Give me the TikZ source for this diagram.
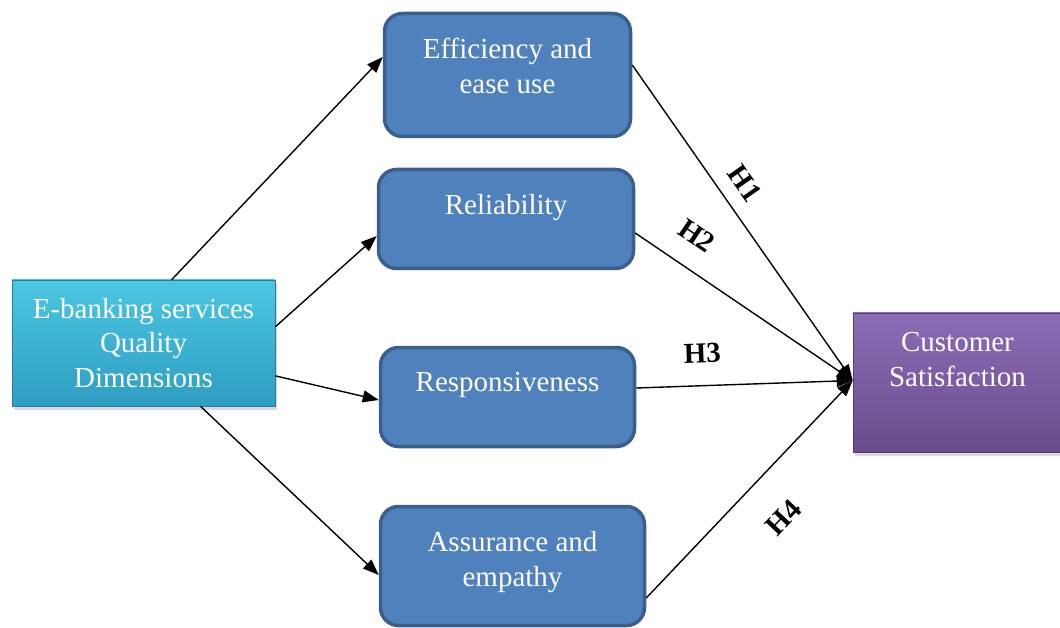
\documentclass[tikz,border=0pt]{standalone}
\usepackage{fontspec}
\setmainfont{Liberation Serif}
\usetikzlibrary{arrows.meta,shadows}

\definecolor{boxblue}{HTML}{4F81BD}
\definecolor{boxedge}{HTML}{3A5F8C}
\definecolor{cyantop}{HTML}{4CC6E2}
\definecolor{cyanbot}{HTML}{2E9EC2}
\definecolor{purptop}{HTML}{8C6CB6}
\definecolor{purpbot}{HTML}{6A4C8C}

\begin{document}
\begin{tikzpicture}[x=1pt,y=-1pt,->,>={Triangle[length=16pt,width=12pt]},
    line width=1.4pt,
    big font/.style={font=\fontsize{29}{34.5}\selectfont},
    dim box/.style={rectangle,inner sep=0pt,text=white,align=center,big font,
      top color=cyantop,bottom color=cyanbot,draw=cyanbot!80!black,line width=0.6pt,
      drop shadow={opacity=0.3,shadow xshift=2pt,shadow yshift=-4pt}},
    sat box/.style={rectangle,inner sep=0pt,
      top color=purptop,bottom color=purpbot,draw=purpbot!80!black,line width=0.6pt,
      drop shadow={opacity=0.3,shadow xshift=2pt,shadow yshift=-4pt}},
    q box/.style={rectangle,rounded corners=18pt,fill=boxblue,draw=boxedge,
      line width=3.5pt,inner sep=0pt},
    q text/.style={anchor=north,inner sep=0pt,text=white,align=center,big font},
    h label/.style={font=\fontsize{29}{34}\selectfont\bfseries,sloped,inner sep=0pt}]

  \useasboundingbox (0,0) rectangle (1060,628);

  % boxes
  \node[dim box,minimum width=263pt,minimum height=126pt] (dims) at (143.5,343)
    {E-banking services\\Quality\\Dimensions};
  \node[q box,minimum width=246pt,minimum height=123pt] (eff) at (507.5,75) {};
  \node[q box,minimum width=255pt,minimum height=99pt] (rel) at (506,219) {};
  \node[q box,minimum width=254pt,minimum height=99pt] (resp) at (507.5,397) {};
  \node[q box,minimum width=264pt,minimum height=119pt] (assu) at (512.5,566) {};
  \node[sat box,minimum width=209pt,minimum height=139pt] (cs) at (957.5,382.5) {};

  % texts
  \node[q text] (efft) at ([yshift=-26pt]eff.north) {Efficiency and\\ease use};
  \node[q text] (relt) at ([yshift=-26pt]rel.north) {Reliability};
  \node[q text] (respt) at ([yshift=-26pt]resp.north) {Responsiveness};
  \node[q text] (assut) at ([yshift=-26pt]assu.north) {Assurance and\\empathy};
  \node[q text] (cst) at ([yshift=-19pt]cs.north) {Customer\\Satisfaction};

  % dimensions
  \draw (dims.66) -- ([yshift=18pt]eff.west);
  \draw (dims.7) -- ([yshift=-17pt]rel.west);
  \draw (dims.-14) -- ([yshift=-3pt]resp.west);
  \draw (dims.-48) -- ([yshift=-9pt]assu.west);

  % hypotheses
  \draw ([yshift=10pt]eff.east) -- ([yshift=2pt]cs.west)
    node[h label,pos=0.42,above=14pt] (h1) {H1};
  \draw ([yshift=-14pt]rel.east) -- ([yshift=2pt]cs.west)
    node[h label,pos=0.2,above=22pt] (h2) {H2};
  \draw ([yshift=9pt]resp.east) -- ([yshift=2pt]cs.west)
    node[h label,pos=0.31,above=22pt] (h3) {H3};
  \draw ([yshift=-32pt]assu.east) -- ([yshift=2pt]cs.west)
    node[h label,pos=0.51,below=34pt] (h4) {H4};

\end{tikzpicture}
\end{document}
